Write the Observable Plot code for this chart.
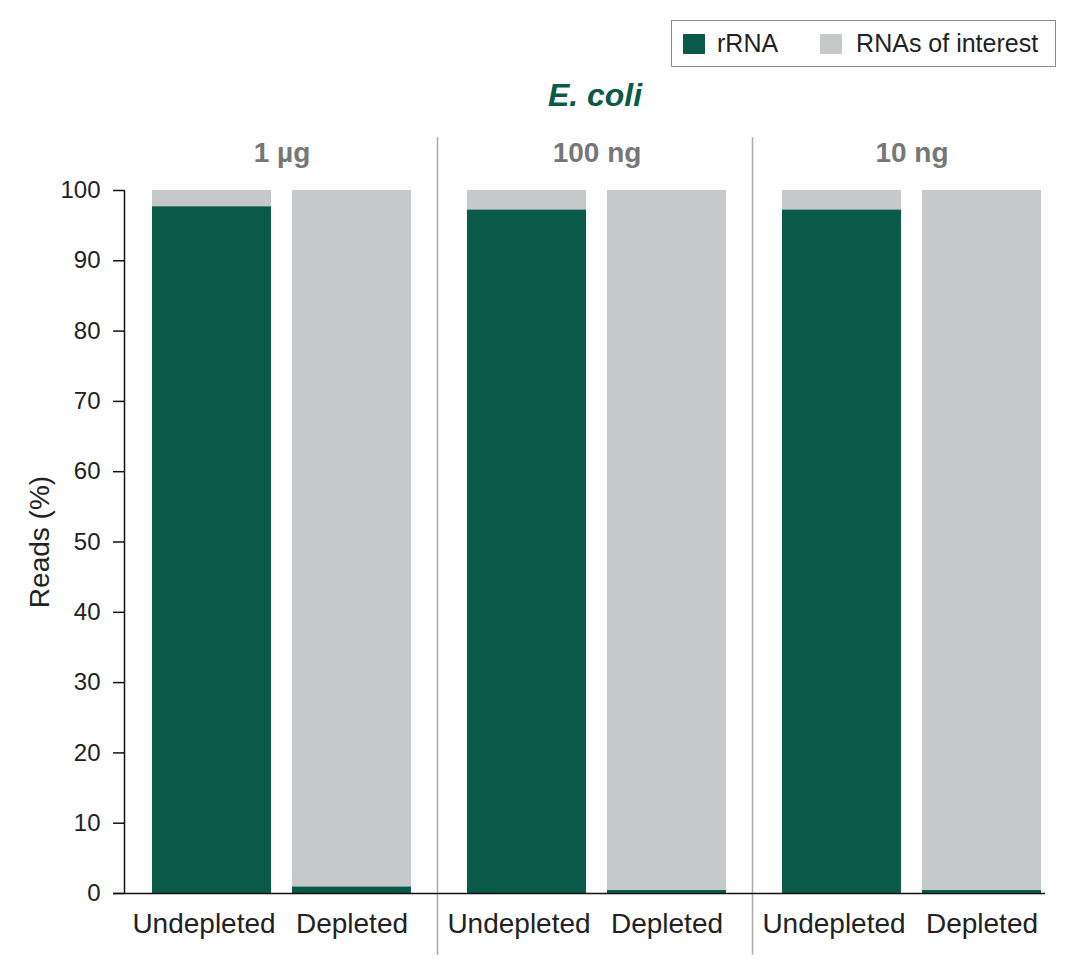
<!DOCTYPE html>
<html><head><meta charset="utf-8">
<script src="https://cdn.jsdelivr.net/npm/d3@7"></script>
<script src="https://cdn.jsdelivr.net/npm/@observablehq/plot@0.6"></script>
<style>
body{margin:0;background:#fff;font-family:"Liberation Sans",Arial,sans-serif;}
#head{position:relative;width:1087px;height:120px;}
#legend{position:absolute;left:671px;top:20px;width:383px;height:45px;border:1.5px solid #8c8c8c;display:flex;align-items:center;font-size:25px;color:#222;box-sizing:content-box;}
#legend .sw{width:22px;height:20px;display:inline-block;}
#title{position:absolute;left:595px;top:79px;transform:translateX(-50%);font-size:32px;line-height:32px;font-weight:bold;font-style:italic;color:#0a5a4a;white-space:nowrap;}
</style></head>
<body>
<div id="head">
  <div id="legend"></div>
  <div id="title">E. coli</div>
</div>
<div id="chart"></div>
<script>
const doses = ["1 µg", "100 ng", "10 ng"];
const samples = ["Undepleted", "Depleted"];
const types = ["rRNA", "RNAs of interest"];
const colors = ["#0a5a4a", "#c7c8c9"];
// rRNA share (%) per dose, in sample order [Undepleted, Depleted]
const rRNA_1ug = [97.7, 0.95];
const rRNA_100ng = [97.25, 0.45];
const rRNA_10ng = [97.25, 0.45];
const yTicks = [0, 10, 20, 30, 40, 50, 60, 70, 80, 90, 100];
const yLabel = "Reads (%)";

const rRNAByDose = [rRNA_1ug, rRNA_100ng, rRNA_10ng];
const rows = [];
doses.forEach((dose, i) => {
  samples.forEach((sample, j) => {
    const r = rRNAByDose[i][j];
    rows.push({dose, sample, type: types[0], value: r});
    rows.push({dose, sample, type: types[1], value: 100 - r});
  });
});

// legend
const legend = document.getElementById("legend");
types.forEach((t, i) => {
  const sw = document.createElement("span");
  sw.className = "sw";
  sw.style.background = colors[i];
  sw.style.marginLeft = i === 0 ? "11px" : "42px";
  const tx = document.createElement("span");
  tx.textContent = t;
  tx.style.marginLeft = i === 0 ? "12px" : "14px";
  legend.appendChild(sw);
  legend.appendChild(tx);
});

const font = "'Liberation Sans', Arial, sans-serif";
const chart = Plot.plot({
  width: 1087,
  height: 855,
  marginLeft: 123,
  marginRight: 18,
  marginTop: 70,
  marginBottom: 82,
  style: {fontFamily: font, fontSize: "24px", color: "#222", background: "#fff"},
  fx: {domain: doses, padding: 0, axis: null},
  x: {domain: samples, paddingInner: 0.15, paddingOuter: 0.195, axis: null},
  y: {domain: [0, 100], axis: null},
  color: {domain: types, range: colors},
  marks: [
    Plot.barY(rows, {fx: "dose", x: "sample", y: "value", fill: "type", order: types}),
    Plot.axisX({ticks: [samples[0]], tickSize: 0, tickPadding: 20, fontSize: 28, label: null, fill: "#222", dx: -8}),
    Plot.axisX({ticks: [samples[1]], tickSize: 0, tickPadding: 20, fontSize: 28, label: null, fill: "#222"}),
    Plot.axisY({ticks: yTicks, tickSize: 11, tickPadding: 13, fontSize: 24, label: null, strokeWidth: 1.5, stroke: "#111", fill: "#222"}),
    // y axis line (first panel)
    Plot.ruleX([{dose: doses[0]}], {fx: "dose", x: () => samples[0], y1: 0, y2: 100, dx: -87.5, stroke: "#111", strokeWidth: 1.5}),
    // panel dividers
    Plot.ruleX(doses.slice(1).map(d => ({dose: d})), {fx: "dose", x: () => samples[0], y1: -8.8, y2: 107.5, dx: -89.5, stroke: "#aaa", strokeWidth: 1.5}),
    // baseline
    Plot.ruleY([{dose: doses[0]}], {fx: "dose", y: () => 0, insetLeft: -11, stroke: "#111", strokeWidth: 1.5}),
    Plot.ruleY([{dose: doses[1]}], {fx: "dose", y: () => 0, stroke: "#111", strokeWidth: 1.5}),
    Plot.ruleY([{dose: doses[2]}], {fx: "dose", y: () => 0, insetRight: 24, stroke: "#111", strokeWidth: 1.5}),
    // facet labels
    Plot.text(doses.map(d => ({dose: d})), {fx: "dose", text: "dose", frameAnchor: "top", lineAnchor: "middle", dy: -37, fontSize: 28, fontWeight: "bold", fill: "#777"}),
    // y label
    Plot.text([{dose: doses[0]}], {fx: "dose", text: () => yLabel, frameAnchor: "left", textAnchor: "middle", rotate: -90, dx: -84, fontSize: 28, fill: "#222"})
  ]
});
document.getElementById("chart").appendChild(chart);
</script>
</body></html>
